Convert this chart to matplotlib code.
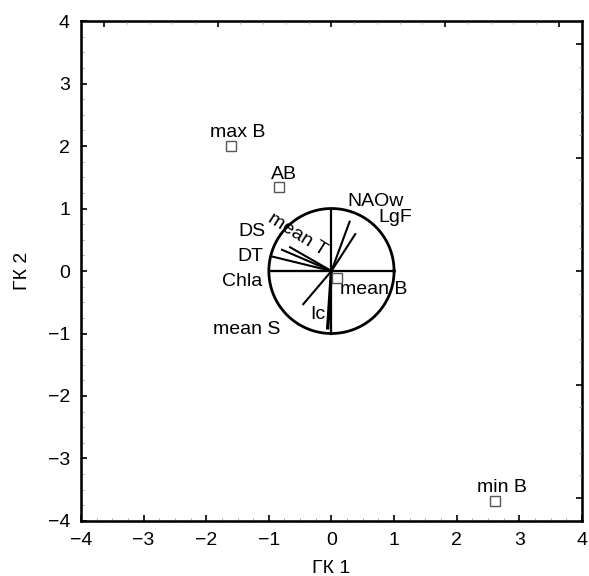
import numpy as np
import matplotlib
matplotlib.use("Agg")
import matplotlib.pyplot as plt
from matplotlib.ticker import MultipleLocator

plt.rcParams['font.family'] = ['Liberation Sans', 'DejaVu Sans']

# Object scores on the first two principal components
obj_names = ["max B", "AB", "min B", "mean B"]
obj_x = [-1.61, -0.84, 2.61, 0.09]
obj_y = [2.00, 1.34, -3.68, -0.11]

# Variable loadings (correlation circle)
var_names = ["NAOw", "LgF", "mean T", "DS", "DT", "Chla", "mean S", "Ic"]
var_x = [0.29, 0.38, -0.66, -0.79, -0.94, -0.97, -0.45, -0.06]
var_y = [0.79, 0.59, 0.38, 0.34, 0.23, 0.00, -0.53, -0.91]

xlabel = "ГК 1"
ylabel = "ГК 2"

fig = plt.figure(figsize=(5.89, 5.76), dpi=100)
ax = fig.add_axes([0.1375, 0.0955, 0.8505, 0.868])
ax.set_xlim(-4, 4)
ax.set_ylim(-4, 4)

# correlation circle with its cross
t = np.linspace(0, 2 * np.pi, 400)
ax.plot(np.cos(t), np.sin(t), color="black", lw=2.0, zorder=2)
ax.plot([-1, 1], [0, 0], color="black", lw=1.6, zorder=2)
ax.plot([0, 0], [-1, 1], color="black", lw=1.6, zorder=2)

# loading vectors
for name, vx, vy in zip(var_names, var_x, var_y):
    lw = 2.4 if name == "Ic" else 1.5
    ax.plot([0, vx], [0, vy], color="black", lw=lw, zorder=3)

# object points
ax.plot(obj_x, obj_y, ls="none", marker="s", ms=7, mfc="white",
        mec="#555555", mew=1.0, zorder=4)

fs = 14
var_label_pos = {
    "NAOw": (0.70, 1.12, 0),
    "LgF": (1.02, 0.85, 0),
    "mean T": (-0.55, 0.58, -32),
    "DS": (-1.27, 0.64, 0),
    "DT": (-1.30, 0.24, 0),
    "Chla": (-1.43, -0.16, 0),
    "mean S": (-1.35, -0.94, 0),
    "Ic": (-0.22, -0.69, 0),
}
for name in var_names:
    lx, ly, rot = var_label_pos[name]
    ax.text(lx, ly, name, fontsize=fs, ha="center", va="center",
            rotation=rot, rotation_mode="anchor", zorder=5)

obj_label_pos = {
    "max B": (-1.49, 2.21),
    "AB": (-0.76, 1.54),
    "min B": (2.72, -3.46),
    "mean B": (0.68, -0.29),
}
for name in obj_names:
    lx, ly = obj_label_pos[name]
    ax.text(lx, ly, name, fontsize=fs, ha="center", va="center", zorder=5)

# axes styling
ax.xaxis.set_major_locator(MultipleLocator(1))
ax.yaxis.set_major_locator(MultipleLocator(1))
ax.xaxis.set_minor_locator(MultipleLocator(0.25))
ax.yaxis.set_minor_locator(MultipleLocator(0.25))
ax.tick_params(which="major", direction="in", length=4, width=1.2,
               labelsize=fs, pad=8)
ax.tick_params(which="minor", direction="in", length=2, width=0.6,
               color="#999999")
for sp in ax.spines.values():
    sp.set_linewidth(1.8)

ax.set_xlabel(xlabel, fontsize=fs, labelpad=8)
ax.set_ylabel(ylabel, fontsize=fs, labelpad=12)

# secondary scale ticks on top and right
lim2 = 4 / 1.816
axt = ax.twiny()
axt.set_xlim(-lim2, lim2)
axt.xaxis.set_major_locator(MultipleLocator(1))
axt.xaxis.set_minor_locator(MultipleLocator(0.2))
axt.tick_params(axis="x", which="major", direction="in", length=4,
                width=1.2, labeltop=False)
axt.tick_params(axis="x", which="minor", direction="in", length=2,
                width=0.6, color="#999999")
axr = ax.twinx()
axr.set_ylim(-lim2, lim2)
axr.yaxis.set_major_locator(MultipleLocator(1))
axr.yaxis.set_minor_locator(MultipleLocator(0.2))
axr.tick_params(axis="y", which="major", direction="in", length=4,
                width=1.2, labelright=False)
axr.tick_params(axis="y", which="minor", direction="in", length=2,
                width=0.6, color="#999999")

fig.savefig("out.png", dpi=100)
